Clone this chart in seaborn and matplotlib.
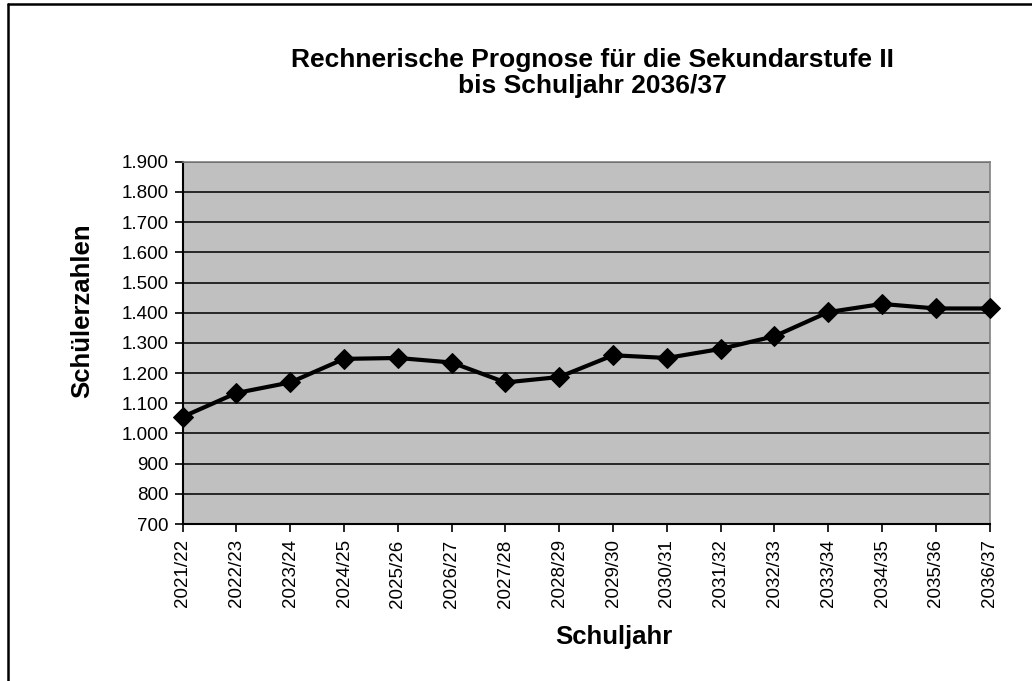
import matplotlib
matplotlib.use("Agg")
import matplotlib.pyplot as plt
from matplotlib.ticker import FuncFormatter
import seaborn as sns
import pandas as pd

# Schuljahre und Schuelerzahlen
schuljahre = ["2021/22", "2022/23", "2023/24", "2024/25", "2025/26", "2026/27",
              "2027/28", "2028/29", "2029/30", "2030/31", "2031/32", "2032/33",
              "2033/34", "2034/35", "2035/36", "2036/37"]
schueler = [1055, 1134, 1169, 1247, 1250, 1235, 1169, 1187, 1259, 1250,
            1280, 1322, 1402, 1429, 1414, 1414]
y_ticks = list(range(700, 2000, 100))

df = pd.DataFrame({"Schuljahr": schuljahre, "Schueler": schueler})
df["pos"] = range(len(df))

sns.set_style("white")
plt.rcParams["font.family"] = ["Liberation Sans", "DejaVu Sans"]
plt.rcParams["text.color"] = "black"
plt.rcParams["axes.labelcolor"] = "black"

fig = plt.figure(figsize=(10.32, 6.81), dpi=100)
ax = fig.add_axes([0.177, 0.2305, 0.782, 0.532])
ax.set_facecolor("#c0c0c0")

for t in y_ticks[1:]:
    ax.axhline(t, color="#1a1a1a", lw=1.3, zorder=1)

sns.lineplot(data=df, x="pos", y="Schueler", ax=ax, color="black", lw=3,
             marker="D", markersize=10, markeredgecolor="black", zorder=3,
             clip_on=False)

ax.set_xlim(0, len(schuljahre) - 1)
ax.set_ylim(700, 1900)
ax.set_xticks(range(len(schuljahre)))
ax.set_xticklabels(schuljahre, rotation=90, fontsize=13.5)
ax.set_yticks(y_ticks)
ax.yaxis.set_major_formatter(FuncFormatter(lambda v, p: f"{int(v):,}".replace(",", ".")))
ax.tick_params(axis="y", labelsize=13.5, direction="out", length=6, width=1.2, colors="black", pad=4)
ax.tick_params(axis="x", direction="out", length=6, width=1.2, colors="black", pad=5)
ax.tick_params(bottom=True, left=True)

for s in ["left", "bottom"]:
    ax.spines[s].set_color("black")
    ax.spines[s].set_linewidth(1.5)
for s in ["right", "top"]:
    ax.spines[s].set_color("#808080")
    ax.spines[s].set_linewidth(1.2)

ax.set_xlabel("Schuljahr", fontsize=18.5, fontweight="bold")
ax.set_ylabel("Schülerzahlen", fontsize=18.5, fontweight="bold")
ax.xaxis.set_label_coords(0.534, -0.28)
ax.yaxis.set_label_coords(-0.109, 0.588)

fig.text(0.574, 0.893, "Rechnerische Prognose für die Sekundarstufe II\nbis Schuljahr 2036/37",
         ha="center", va="center", fontsize=19, fontweight="bold", linespacing=1.12)

# Rahmen links und oben
fig.add_artist(plt.Line2D([0.0073, 0.0073], [0, 0.994], color="black", lw=1.8, transform=fig.transFigure))
fig.add_artist(plt.Line2D([0.0073, 1], [0.994, 0.994], color="black", lw=1.8, transform=fig.transFigure))

fig.savefig("out.png", dpi=100)
